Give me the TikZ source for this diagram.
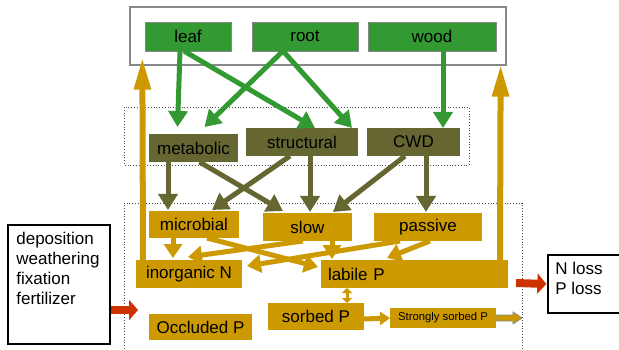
\documentclass[tikz,border=0pt]{standalone}
\usepackage{fontspec}
\setmainfont{Liberation Sans}
\usetikzlibrary{arrows.meta,calc}
\definecolor{cgreen}{HTML}{339933}
\definecolor{colive}{HTML}{666633}
\definecolor{cgold}{HTML}{CC9900}
\definecolor{cred}{HTML}{CC3300}
\definecolor{cgray}{HTML}{888888}
\tikzset{
  base/.style={inner sep=0pt, outer sep=0pt, font=\fontsize{17}{20}\selectfont, text=black},
  gbox/.style={base, fill=cgreen, draw=cgray, line width=0.8pt},
  obox/.style={base, fill=colive},
  ybox/.style={base, fill=cgold},
  garrow/.style={draw=cgreen, line width=5pt, -{Triangle[width=19pt,length=16pt]}},
  oarrow/.style={draw=colive, line width=5pt, -{Triangle[width=19pt,length=16pt]}},
  yarrow/.style={draw=cgold, line width=5pt, -{Triangle[width=18pt,length=14pt]}},
  bigup/.style={draw=cgold, line width=6pt, -{Triangle[width=16pt,length=32pt]}},
  redarrow/.style={draw=cred, line width=8pt, -{Triangle[width=20pt,length=9pt]}},
  framebox/.style={draw=black, line width=1.3pt, inner sep=0pt},
  dotbox/.style={draw=black!70, dotted, line width=0.8pt}
}
\begin{document}
\begin{tikzpicture}[x=1pt,y=-1pt]
\useasboundingbox (0,0) rectangle (619,350);
\clip (0,0) rectangle (619,350);
% containers
\node[draw=cgray, line width=1.3pt, minimum width=376pt, minimum height=58pt, inner sep=0pt] (topbox) at (318,36) {};
\draw[dotbox] (124,107) rectangle (469,165);
\draw[dotbox] (124,360) -- (124,203) -- (522,203) -- (522,360);
% plant boxes
\node[gbox, minimum width=86pt, minimum height=29pt] (leaf) at (188,36.5) {leaf};
\node[gbox, minimum width=106pt, minimum height=29pt] (root) at (305,36.5) {root};
\node[gbox, minimum width=128pt, minimum height=29pt] (wood) at (432,36.5) {wood};
% litter
\node[obox, minimum width=89pt, minimum height=28pt] (metabolic) at (193.5,148) {metabolic};
\node[obox, minimum width=112pt, minimum height=28pt] (structural) at (302,142) {structural};
\node[obox, minimum width=93pt, minimum height=28pt] (CWD) at (413.5,142) {CWD};
% soil
\node[ybox, minimum width=90pt, minimum height=27pt] (microbial) at (194,224.5) {microbial};
\node[ybox, minimum width=89pt, minimum height=28pt] (slow) at (307.5,227) {slow};
\node[ybox, minimum width=108pt, minimum height=28pt] (passive) at (428,227) {passive};
\node[ybox, minimum width=106pt, minimum height=28pt] (inorgN) at (189,274) {inorganic N};
\node[ybox, minimum width=187pt, minimum height=28pt, text width=173pt, align=left] (labileP) at (414.5,274) {labile P};
\node[ybox, minimum width=96pt, minimum height=27pt] (sorbedP) at (316,316.5) {sorbed P};
\node[ybox, minimum width=106pt, minimum height=20pt, font=\fontsize{11.3}{13}\selectfont] (strongP) at (443,318) {Strongly sorbed P};
\node[ybox, minimum width=103pt, minimum height=26pt] (occludedP) at (200.5,327) {Occluded P};
% external boxes
\node[framebox, minimum width=102pt, minimum height=119pt] (inbox) at (59,284.5) {};
\node[base, anchor=north west, align=left] (intext) at ([xshift=9,yshift=-8]inbox.north west)
  {deposition\\weathering\\fixation\\fertilizer};
\node[framebox, minimum width=80pt, minimum height=58pt] (lossbox) at (588,284) {};
\node[base, anchor=north west, align=left] (losstext) at ([xshift=8,yshift=-8]lossbox.north west)
  {N loss\\P loss};
% green arrows
\draw[garrow] ([xshift=-8]leaf.south) -- ([xshift=-16,yshift=7]metabolic.north);
\draw[garrow] ([xshift=-4]leaf.south) -- ([xshift=13]structural.north);
\draw[garrow] ([xshift=-22]root.south) -- ([xshift=11,yshift=7]metabolic.north);
\draw[garrow] ([xshift=-22]root.south) -- ([xshift=50]structural.north);
\draw[garrow] ([xshift=11]wood.south) -- ([xshift=29.5]CWD.north);
% olive arrows
\draw[oarrow] ([xshift=-25.5]metabolic.south) -- ([xshift=-26,yshift=1]microbial.north);
\draw[oarrow] ([xshift=6]metabolic.south) -- ([xshift=-24.5,yshift=2]slow.north);
\draw[oarrow] ([xshift=-12]structural.south) -- ([xshift=18,yshift=1]microbial.north);
\draw[oarrow] ([xshift=8]structural.south) -- ([xshift=2.5,yshift=1]slow.north);
\draw[oarrow] ([xshift=-8.5]CWD.south) -- ([xshift=25.5,yshift=1]slow.north);
\draw[oarrow] ([xshift=12.5]CWD.south) -- ([xshift=-2,yshift=1]passive.north);
% gold soil arrows
\draw[yarrow] ([xshift=-21]microbial.south) -- ([xshift=-16,yshift=2]inorgN.north);
\draw[yarrow] ([xshift=13]microbial.south) -- ([xshift=-3,yshift=7]labileP.west);
\draw[yarrow] ([xshift=-4.5]slow.south) -- ([xshift=-1,yshift=3]inorgN.north);
\draw[yarrow] ([xshift=24.5]slow.south) -- ([xshift=-82.5,yshift=1]labileP.north);
\draw[yarrow] ([xshift=-28]passive.south) -- ([xshift=5,yshift=-6]inorgN.north east);
\draw[yarrow] ([xshift=2]passive.south) -- ([xshift=-27.5,yshift=2]labileP.north);
% uptake arrows
\draw[bigup] ([xshift=-46]inorgN.north) -- ([xshift=13,yshift=8]topbox.south west);
\draw[bigup] ([xshift=85.5]labileP.north) -- ([xshift=-6,yshift=1]topbox.south east);
% sorption
\draw[draw=cgold, line width=3pt, {Triangle[width=10pt,length=5pt]}-{Triangle[width=10pt,length=5pt]}]
  ([xshift=-67.5]labileP.south) -- ([xshift=31]sorbedP.north);
\draw[draw=cgold, line width=5pt, -{Triangle[width=13pt,length=10pt]}] ([yshift=-2.5]sorbedP.east) -- (strongP.west);
\draw[fill=cgold, draw=cgray, line width=0.8pt] (strongP.east) ++(0,-3) -- ++(17,0) -- ++(0,-3) -- ++(9,6) -- ++(-9,6) -- ++(0,-3) -- ++(-17,0) -- cycle;
% inputs / losses
\coordinate (redin) at (138,310);
\draw[redarrow] ([yshift=-25.5]inbox.east) -- (redin);
\draw[redarrow] ([xshift=8,yshift=-9]labileP.east) -- ([xshift=-1]lossbox.west);
\end{tikzpicture}
\end{document}
